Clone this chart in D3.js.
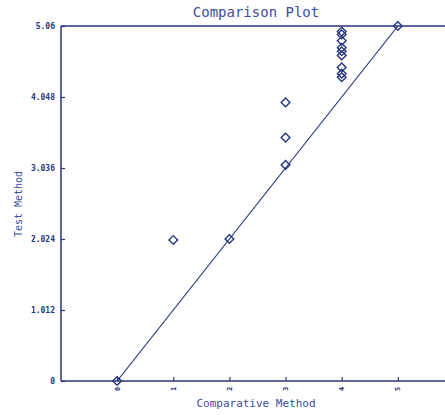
<!DOCTYPE html>
<html>
<head>
<meta charset="utf-8">
<script src="https://cdn.jsdelivr.net/npm/d3@7"></script>
<style>
  body { margin: 0; background: #fff; }
  svg { display: block; }
</style>
</head>
<body>
<div id="chart"></div>
<script>
// data
const xValues = [0, 1, 2, 3, 3, 3, 4, 4, 4, 4, 4, 4, 4, 4, 4, 5];
const yValues = [0, 2.01, 2.024, 3.08, 3.47, 3.97, 4.98, 4.94, 4.85, 4.75, 4.70, 4.64, 4.47, 4.38, 4.33, 5.06];
const xTicks = [0, 1, 2, 3, 4, 5];
const yTicks = [0, 1.012, 2.024, 3.036, 4.048, 5.06];
const yTickLabels = ["0", "1.012", "2.024", "3.036", "4.048", "5.06"];
const fitLine = [[0, 0], [5, 5.06]];

const W = 445, H = 415;
const navy = "#28367f", blue = "#3c4ca6";
const mono = "'DejaVu Sans Mono', 'Liberation Mono', monospace";

const svg = d3.select("#chart").append("svg")
    .attr("width", W)
    .attr("height", H);

const x = d3.scaleLinear().domain([-1, 6]).range([61, 454]);
const y = d3.scaleLinear().domain([0, 5.06]).range([381, 26]);

// title
svg.append("text")
    .attr("x", 256).attr("y", 17)
    .attr("text-anchor", "middle")
    .attr("font-family", mono)
    .attr("font-size", "14px")
    .attr("fill", blue)
    .text("Comparison Plot");

// top frame line
svg.append("line")
    .attr("x1", x(-1)).attr("x2", W)
    .attr("y1", y(5.06)).attr("y2", y(5.06))
    .attr("stroke", navy).attr("stroke-width", 1.5);

// x axis
const xAxis = svg.append("g")
    .attr("transform", "translate(0," + y(0) + ")")
    .call(d3.axisTop(x).tickValues(xTicks).tickSize(4).tickFormat(""));
xAxis.select(".domain").remove();
xAxis.selectAll(".tick line").attr("stroke", navy).attr("stroke-width", 1.2);
svg.append("line")
    .attr("x1", x(-1)).attr("x2", W)
    .attr("y1", y(0)).attr("y2", y(0))
    .attr("stroke", navy).attr("stroke-width", 1.5);

svg.selectAll(".xlab")
    .data(xTicks)
    .enter().append("text")
    .attr("class", "xlab")
    .attr("transform", d => "translate(" + x(d) + ",389) rotate(-90)")
    .attr("text-anchor", "middle")
    .attr("dy", "0.35em")
    .attr("font-family", mono)
    .attr("font-weight", "bold")
    .attr("font-size", "7px")
    .attr("fill", navy)
    .text(d => d);

// y axis
const yAxis = svg.append("g")
    .attr("transform", "translate(" + x(-1) + ",0)")
    .call(d3.axisRight(y).tickValues(yTicks).tickSize(4).tickFormat(""));
yAxis.select(".domain").remove();
yAxis.selectAll(".tick line").attr("stroke", navy).attr("stroke-width", 1.2);
svg.append("line")
    .attr("x1", x(-1)).attr("x2", x(-1))
    .attr("y1", y(0)).attr("y2", y(5.06))
    .attr("stroke", navy).attr("stroke-width", 1.5);

svg.selectAll(".ylab")
    .data(yTicks)
    .enter().append("text")
    .attr("class", "ylab")
    .attr("x", 55)
    .attr("y", d => y(d))
    .attr("dy", "0.35em")
    .attr("text-anchor", "end")
    .attr("font-family", mono)
    .attr("font-weight", "bold")
    .attr("font-size", "8px")
    .attr("fill", navy)
    .text((d, i) => yTickLabels[i]);

// axis titles
svg.append("text")
    .attr("x", 256).attr("y", 407)
    .attr("text-anchor", "middle")
    .attr("font-family", mono)
    .attr("font-size", "11px")
    .attr("fill", blue)
    .text("Comparative Method");

svg.append("text")
    .attr("transform", "translate(22,204) rotate(-90)")
    .attr("text-anchor", "middle")
    .attr("font-family", mono)
    .attr("font-size", "10px")
    .attr("fill", blue)
    .text("Test Method");

// line
svg.append("path")
    .datum(fitLine)
    .attr("d", d3.line().x(d => x(d[0])).y(d => y(d[1])))
    .attr("fill", "none")
    .attr("stroke", navy)
    .attr("stroke-width", 1.2);

// points
const diamond = d3.symbol().type(d3.symbolSquare).size(38);
svg.selectAll(".pt")
    .data(xValues)
    .enter().append("path")
    .attr("class", "pt")
    .attr("d", diamond)
    .attr("transform", (d, i) => "translate(" + x(d) + "," + y(yValues[i]) + ") rotate(45)")
    .attr("fill", "none")
    .attr("stroke", navy)
    .attr("stroke-width", 1.4);
</script>
</body>
</html>
